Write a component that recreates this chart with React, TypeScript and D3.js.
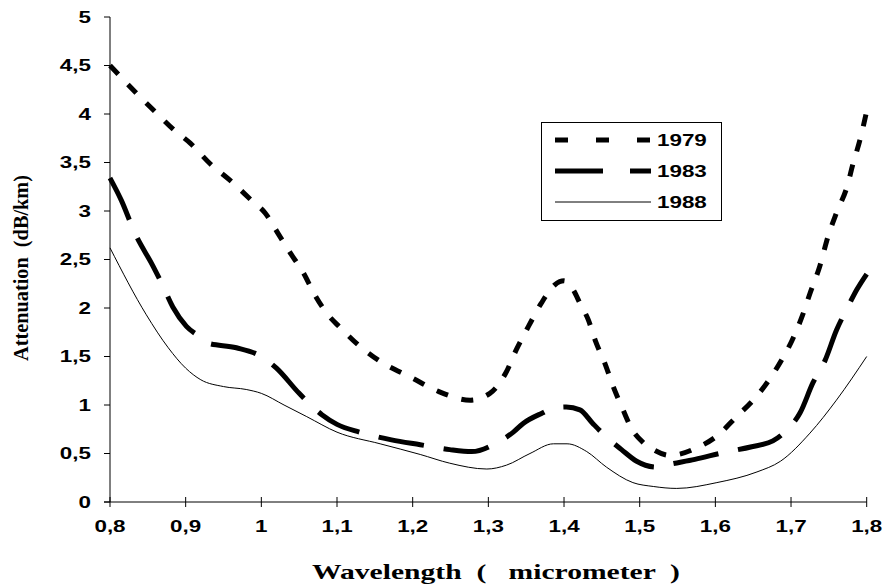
import React from "react";
import * as d3 from "d3";

const xTicks = [0.8, 0.9, 1.0, 1.1, 1.2, 1.3, 1.4, 1.5, 1.6, 1.7, 1.8];
const yTicks = [0, 0.5, 1, 1.5, 2, 2.5, 3, 3.5, 4, 4.5, 5];

const wl1979 = [0.8, 0.833, 0.86, 0.884, 0.906, 0.932, 0.961, 0.987, 1.005, 1.022, 1.038, 1.055, 1.071, 1.088, 1.104, 1.128, 1.157, 1.199, 1.234, 1.276, 1.302, 1.323, 1.337, 1.353, 1.37, 1.388, 1.4, 1.412, 1.421, 1.432, 1.442, 1.454, 1.465, 1.478, 1.489, 1.505, 1.518, 1.54, 1.573, 1.602, 1.628, 1.65, 1.672, 1.688, 1.701, 1.714, 1.725, 1.738, 1.749, 1.76, 1.774, 1.782, 1.791, 1.8];
const att1979 = [4.5, 4.23, 4.02, 3.84, 3.7, 3.49, 3.3, 3.11, 2.98, 2.77, 2.57, 2.37, 2.13, 1.93, 1.8, 1.62, 1.45, 1.28, 1.14, 1.05, 1.12, 1.33, 1.57, 1.81, 2.05, 2.24, 2.28, 2.19, 2.05, 1.88, 1.65, 1.43, 1.19, 0.95, 0.76, 0.61, 0.54, 0.48, 0.55, 0.68, 0.88, 1.05, 1.27, 1.47, 1.66, 1.9, 2.15, 2.43, 2.74, 2.98, 3.25, 3.49, 3.73, 4.03];

const wl1983 = [0.8, 0.815, 0.833, 0.857, 0.868, 0.883, 0.901, 0.919, 0.928, 0.967, 1.0, 1.02, 1.05, 1.08, 1.1, 1.13, 1.172, 1.21, 1.249, 1.278, 1.311, 1.333, 1.346, 1.372, 1.386, 1.403, 1.421, 1.438, 1.456, 1.476, 1.496, 1.522, 1.54, 1.573, 1.611, 1.648, 1.676, 1.694, 1.712, 1.729, 1.745, 1.76, 1.775, 1.787, 1.8];
const att1983 = [3.34, 3.11, 2.77, 2.43, 2.26, 2.01, 1.81, 1.7, 1.64, 1.59, 1.5, 1.38, 1.12, 0.9, 0.8, 0.72, 0.64, 0.59, 0.54, 0.52, 0.61, 0.72, 0.81, 0.92, 0.97, 0.98, 0.95, 0.81, 0.67, 0.54, 0.42, 0.36, 0.39, 0.44, 0.51, 0.57, 0.63, 0.74, 0.92, 1.23, 1.46, 1.77, 2.01, 2.19, 2.35];

const wl1988 = [0.8, 0.848, 0.877, 0.9, 0.92, 0.95, 0.98, 1.0, 1.03, 1.06, 1.1, 1.157, 1.21, 1.249, 1.298, 1.324, 1.355, 1.386, 1.404, 1.43, 1.456, 1.491, 1.518, 1.549, 1.602, 1.655, 1.686, 1.725, 1.76, 1.8];
const att1988 = [2.62, 1.93, 1.59, 1.38, 1.26, 1.19, 1.16, 1.12, 1.0, 0.88, 0.72, 0.6, 0.49, 0.4, 0.34, 0.38, 0.5, 0.6, 0.6, 0.52, 0.36, 0.2, 0.16, 0.14, 0.2, 0.31, 0.42, 0.71, 1.05, 1.5];

const seriesNames = ["1979", "1983", "1988"];

const fmt = (v: number) => String(Math.round(v * 10) / 10).replace(".", ",");

export default function App() {
  const x = d3.scaleLinear().domain([0.8, 1.8]).range([110, 866.7]);
  const y = d3.scaleLinear().domain([0, 5]).range([502, 17]);

  const mk = (w: number[], a: number[]) =>
    d3
      .line<number>()
      .x((_, i) => x(w[i]))
      .y((v) => y(v))
      .curve(d3.curveMonotoneX)(a) || "";

  const styles = [
    { w: wl1979, a: att1979, sw: 5, dash: "12 14", legDash: "13 28" },
    { w: wl1983, a: att1983, sw: 5, dash: "46 20", legDash: "48 27" },
    { w: wl1988, a: att1988, sw: 1, dash: "", legDash: "" },
  ];

  const tickFont = "Arial, 'Liberation Sans', sans-serif";
  const serif = "'Times New Roman', 'Liberation Serif', serif";
  const sx = 1.4;

  return (
    <svg width={888} height={588} style={{ position: "absolute", left: 0, top: 0, background: "#fff" }}>
      <rect width={888} height={588} fill="#fff" />
      {/* axes */}
      <line x1={x(0.8)} x2={x(0.8)} y1={y(5)} y2={y(0)} stroke="#000" strokeWidth={1} />
      <line x1={x(0.8) - 6} x2={x(1.8)} y1={y(0)} y2={y(0)} stroke="#000" strokeWidth={1} />
      {yTicks.map((t) => (
        <g key={"y" + t}>
          <line x1={x(0.8) - 6} x2={x(0.8)} y1={y(t)} y2={y(t)} stroke="#000" />
          <text
            transform={`translate(91,${y(t)}) scale(${sx},1)`}
            dy="0.36em"
            textAnchor="end"
            fontFamily={tickFont}
            fontWeight="bold"
            fontSize={16}
          >
            {fmt(t)}
          </text>
        </g>
      ))}
      {xTicks.map((t) => (
        <g key={"x" + t}>
          <line x1={x(t)} x2={x(t)} y1={y(0) - 5} y2={y(0) + 5} stroke="#000" />
          <text
            transform={`translate(${x(t)},532) scale(${sx},1)`}
            textAnchor="middle"
            fontFamily={tickFont}
            fontWeight="bold"
            fontSize={16}
          >
            {fmt(t)}
          </text>
        </g>
      ))}
      {/* series */}
      {styles.map((s, i) => (
        <path
          key={seriesNames[i]}
          d={mk(s.w, s.a)}
          fill="none"
          stroke="#000"
          strokeWidth={s.sw}
          strokeDasharray={s.dash || undefined}
        />
      ))}
      {/* legend */}
      <rect x={541.5} y={122.5} width={180} height={98} fill="#fff" stroke="#000" strokeWidth={1} />
      {styles.map((s, i) => {
        const cy = 140 + i * 31;
        return (
          <g key={"leg" + i}>
            <line
              x1={555}
              x2={651}
              y1={cy}
              y2={cy}
              stroke="#000"
              strokeWidth={s.sw}
              strokeDasharray={s.legDash || undefined}
            />
            <text
              transform={`translate(657,${cy}) scale(${sx},1)`}
              dy="0.36em"
              fontFamily={tickFont}
              fontWeight="bold"
              fontSize={16}
            >
              {seriesNames[i]}
            </text>
          </g>
        );
      })}
      {/* titles */}
      <text
        x={496}
        y={579}
        textAnchor="middle"
        fontFamily={serif}
        fontWeight="bold"
        fontSize={21}
        style={{ whiteSpace: "pre" }}
        textLength={368}
        lengthAdjust="spacingAndGlyphs"
      >
        {"Wavelength  (   micrometer  )"}
      </text>
      <text
        transform={`translate(28,268) rotate(-90)`}
        textAnchor="middle"
        fontFamily={serif}
        fontWeight="bold"
        fontSize={21}
        textLength={186}
        lengthAdjust="spacingAndGlyphs"
        style={{ whiteSpace: "pre" }}
      >
        {"Attenuation  (dB/km)"}
      </text>
    </svg>
  );
}
